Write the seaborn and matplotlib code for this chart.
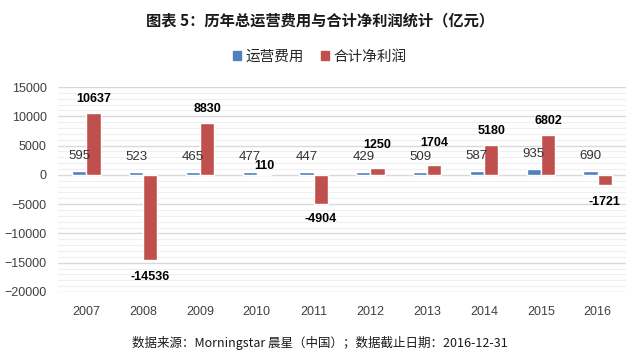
import matplotlib
matplotlib.use("Agg")
import matplotlib.pyplot as plt
import seaborn as sns
import pandas as pd
from matplotlib.ticker import MultipleLocator
from matplotlib.patches import Patch

years = ["2007", "2008", "2009", "2010", "2011", "2012", "2013", "2014", "2015", "2016"]
opex = [595, 523, 465, 477, 447, 429, 509, 587, 935, 690]
profit = [10637, -14536, 8830, 110, -4904, 1250, 1704, 5180, 6802, -1721]
series_names = ["运营费用", "合计净利润"]
yticks = [-20000, -15000, -10000, -5000, 0, 5000, 10000, 15000]
title = "图表 5：历年总运营费用与合计净利润统计（亿元）"
footer = "数据来源：Morningstar 晨星（中国）；数据截止日期：2016-12-31"

# label offsets (points, layout only) for the net profit labels
profit_label_offsets = [10, -12, 10, 6, -11, 16, 16, 10, 10, -12]

sns.set_theme(style="white")
plt.rcParams['font.family'] = ['Liberation Sans', 'Noto Sans CJK SC', 'DejaVu Sans']

df = pd.DataFrame({
    "year": years * 2,
    "value": opex + profit,
    "series": [series_names[0]] * len(years) + [series_names[1]] * len(years),
})

fig = plt.figure(figsize=(6.4, 3.62), dpi=100)
ax = fig.add_axes([58 / 640, 1 - 292 / 362, (626 - 58) / 640, (292 - 87) / 362])

palette = {series_names[0]: "#4F81BD", series_names[1]: "#C0504D"}
sns.barplot(data=df, x="year", y="value", hue="series", palette=palette,
            width=0.5, ax=ax, legend=False, saturation=1)

ax.set_ylim(-20000, 15000)
ax.set_yticks(yticks)
ax.yaxis.set_minor_locator(MultipleLocator(1000))
ax.grid(axis="y", which="major", color="#d9d9d9", linewidth=1.0)
ax.grid(axis="y", which="minor", color="#efefef", linewidth=0.8)
ax.set_axisbelow(True)
for s in ax.spines.values():
    s.set_visible(False)
ax.set_xlabel("")
ax.set_ylabel("")
ax.tick_params(axis="both", which="both", length=0, colors="#404040", labelsize=9)
ax.tick_params(axis="y", pad=8)
ax.tick_params(axis="x", pad=10)
ax.set_xlim(-0.5, len(years) - 0.5)

# labels
for bar, v in zip(ax.containers[0], opex):
    ax.annotate(str(v), (bar.get_x() + bar.get_width() / 2, bar.get_height()),
                xytext=(0, 11), textcoords="offset points", ha="center", va="center",
                fontsize=9.5, color="#333333")
for bar, v, off in zip(ax.containers[1], profit, profit_label_offsets):
    x = bar.get_x() + bar.get_width() / 2
    ax.annotate(str(v), (x, v), xytext=(0, off), textcoords="offset points",
                ha="center", va="center", fontsize=9, fontweight="bold", color="black")

fig.text(0.5, 1 - 20 / 362, title, ha="center", va="center", fontsize=11,
         fontweight="bold", family=['Noto Sans CJK SC', 'DejaVu Sans'], color="#1a1a1a")

handles = [Patch(color=palette[n], label=n) for n in series_names]
fig.legend(handles=handles, loc="center", bbox_to_anchor=(0.5, 1 - 57 / 362), ncol=2,
           frameon=False, handlelength=0.55, handleheight=0.55,
           handletextpad=0.3, columnspacing=1.2,
           prop={'family': ['Noto Sans CJK SC', 'DejaVu Sans'], 'size': 10.5})

fig.text(0.5, 1 - 343 / 362, footer, ha="center", va="center", fontsize=9,
         family=['Noto Sans CJK SC', 'DejaVu Sans'], color="#1a1a1a")

fig.savefig("out.png", dpi=100)
